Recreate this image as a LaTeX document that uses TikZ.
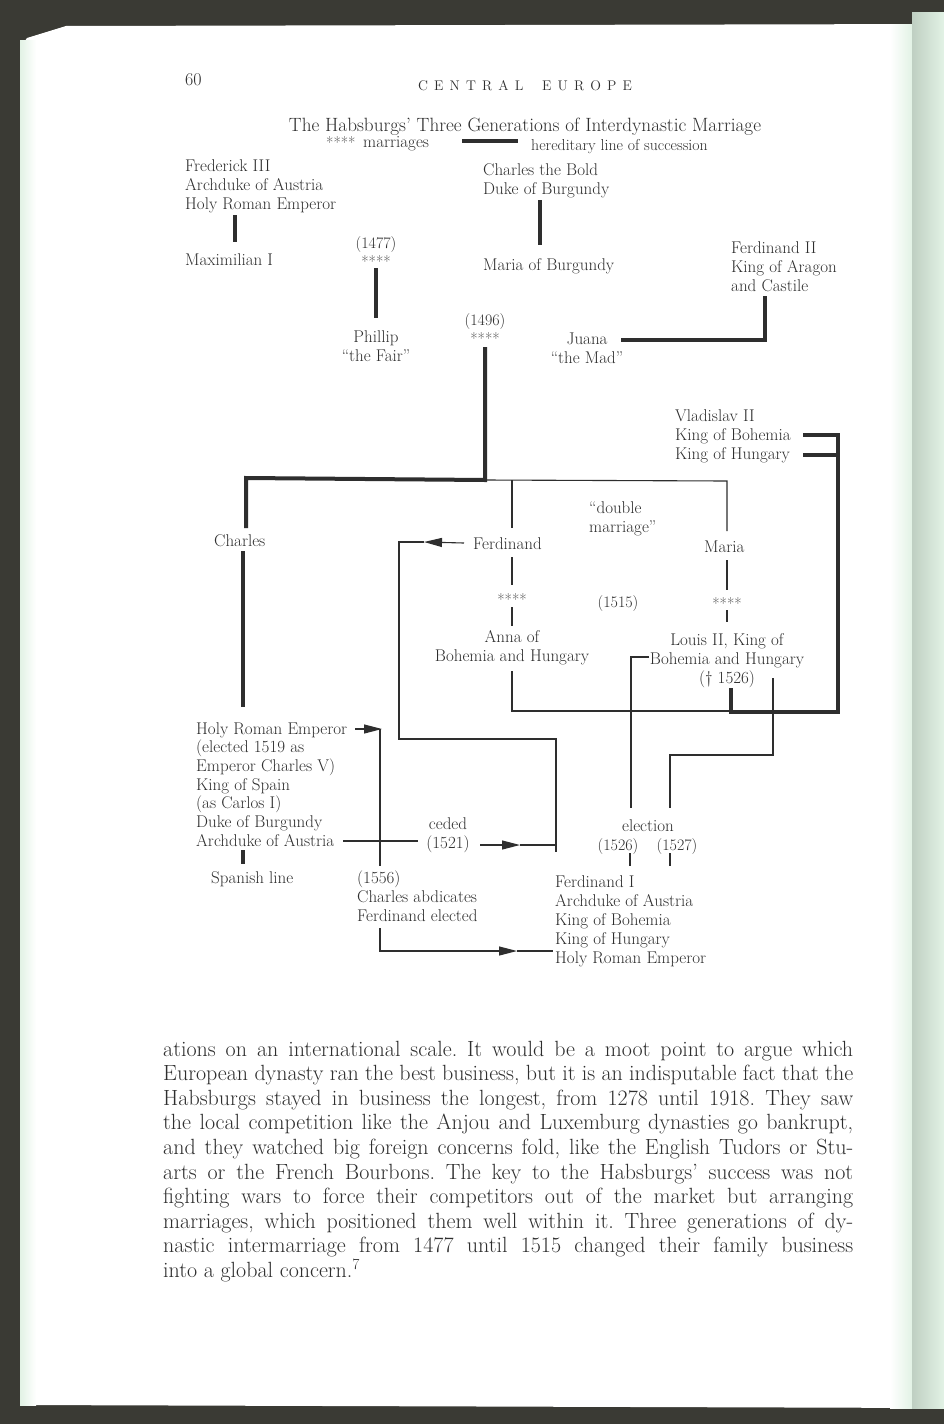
\documentclass[tikz,border=0pt]{standalone}
\usepackage{fontspec}
\usetikzlibrary{arrows.meta}
\definecolor{ink}{HTML}{2E2E2E}
\definecolor{frame}{HTML}{3A3A34}
\definecolor{edgegreen}{HTML}{C6D8C9}
\definecolor{palegreen}{HTML}{E2F2E5}
\begin{document}
\begin{tikzpicture}[x=1pt,y=-1pt,
  txt/.style={inner sep=0pt, text=ink, font=\fontsize{17}{19}\selectfont},
  lbl/.style={txt, anchor=base west},
  clbl/.style={txt, anchor=base},
  blk/.style={txt, align=left, anchor=north west},
  cblk/.style={txt, align=center, anchor=north},
  yr/.style={font=\fontsize{16}{19}\selectfont},
  stars/.style={inner sep=0pt, text=ink!85, font=\fontsize{16}{16}\selectfont},
  her/.style={draw=ink, line width=4pt, line join=miter},
  rel/.style={draw=ink, line width=1.1pt},
  arr/.style={-{Triangle[length=18pt,width=9pt]}},
  body/.style={inner sep=0pt, anchor=base west, text=ink, font=\fontsize{22}{25}\selectfont\frenchspacing}]

\useasboundingbox (0,0) rectangle (944,1424);
% page and scanner frame
\fill[frame] (0,0) rectangle (944,1424);
\fill[white] (20,1405) -- (20,48) -- (27,38) -- (66,26) -- (944,24) -- (944,1408) -- cycle;
\shade[left color=palegreen, right color=white] (20,40) rectangle (36,1405);
\shade[left color=white, right color=palegreen] (890,24) rectangle (912,1408);
\shade[left color=edgegreen!90!gray, right color=palegreen] (912,12) rectangle (944,1408);

% header
\node[lbl, font=\fontsize{18}{20}\selectfont] (pg) at (185,85) {60};
\node[clbl] (hdr) at (525,90) {\fontsize{14}{15}\selectfont\makebox[214pt][s]{C\hfil E\hfil N\hfil T\hfil R\hfil A\hfil L\hfil\hfil\hfil E\hfil U\hfil R\hfil O\hfil P\hfil E}};

% title and legend
\node[clbl, font=\fontsize{19.2}{21}\selectfont] (title) at (525,131) {The Habsburgs’ Three Generations of Interdynastic Marriage};
\node[stars, anchor=base west] (lgs) at (326,148) {****};
\node[lbl, font=\fontsize{17}{19}\selectfont] (lgm) at (363,147) {marriages};
\coordinate (lbA) at (462,141); \coordinate (lbB) at (518,141);
\draw[her] (lbA) -- (lbB);
\node[lbl, font=\fontsize{15.8}{19}\selectfont] (lgh) at (531,150) {hereditary line of succession};

% generation 1
\node[blk] (fred) at (185,159) {Frederick III\\Archduke of Austria\\Holy Roman Emperor};
\node[lbl] (max) at (185,265) {Maximilian I};
\node[clbl, yr] (y1477) at (376,248) {(1477)};
\node[stars] (s1477) at (376,262) {****};
\node[cblk] (phil) at (376,330) {Phillip\\“the Fair”};
\node[blk] (cb) at (483,163) {Charles the Bold\\Duke of Burgundy};
\node[lbl] (mb) at (483,270) {Maria of Burgundy};
\node[blk] (f2) at (731,241) {Ferdinand II\\King of Aragon\\and Castile};
\node[clbl, yr] (y1496) at (485,325) {(1496)};
\node[stars] (s1496) at (485,339) {****};
\node[cblk] (juana) at (587,333) {Juana\\“the Mad”};
\node[blk] (vlad) at (675,409) {Vladislav II\\King of Bohemia\\King of Hungary};

% generation 3
\node[blk] (dbl) at (589,501) {“double\\marriage”};
\node[lbl] (charles) at (214,546) {Charles};
\node[lbl] (ferd) at (473,549) {Ferdinand};
\node[lbl] (maria) at (704,552) {Maria};
\node[stars] (sA) at (512,600) {****};
\node[stars] (sL) at (727,603) {****};
\node[clbl, yr] (y1515) at (618,607) {(1515)};
\node[cblk] (anna) at (512,630) {Anna of\\Bohemia and Hungary};
\node[cblk] (louis) at (727,633) {Louis II, King of\\Bohemia and Hungary\\(† 1526)};

% lower part
\node[blk, font=\fontsize{17}{18.7}\selectfont] (hre) at (196,722) {Holy Roman Emperor\\(elected 1519 as\\Emperor Charles V)\\King of Spain\\(as Carlos I)\\Duke of Burgundy\\Archduke of Austria};
\node[cblk] (ceded) at (448,817) {ceded\\(1521)};
\node[clbl] (elec) at (648,831) {election};
\node[clbl, yr] (y1526) at (618,850) {(1526)};
\node[clbl, yr] (y1527) at (677,850) {(1527)};
\node[lbl] (span) at (211,883) {Spanish line};
\node[blk] (abd) at (357,871) {(1556)\\Charles abdicates\\Ferdinand elected};
\node[blk] (fI) at (555,875) {Ferdinand I\\Archduke of Austria\\King of Bohemia\\King of Hungary\\Holy Roman Emperor};

% ---- connector end points
\coordinate (fredS) at (235,215);  \coordinate (maxN) at (235,242);
\coordinate (m77a) at (376,268);   \coordinate (m77b) at (376,318);
\coordinate (cbS) at (540,200);    \coordinate (mbN) at (540,245);
\coordinate (f2S) at (765,296);    \coordinate (juE) at (621,340);
\coordinate (m96) at (485,347);    \coordinate (sib) at (485,480);
\coordinate (chN) at (246,528);
\coordinate (ferN) at (512,528);   \coordinate (marN) at (727,531);
\coordinate (vbE) at (803,435);    \coordinate (vhE) at (803,455);
\coordinate (vR) at (838,455);
\coordinate (louS) at (731,688);
\coordinate (chS) at (243,551);    \coordinate (hreN) at (243,707);
\coordinate (hreS) at (243,850);   \coordinate (spN) at (243,864);

% hereditary lines (thick)
\draw[her] (fredS) -- (maxN);
\draw[her] (m77a) -- (m77b);
\draw[her] (cbS) -- (mbN);
\draw[her] (f2S) |- (juE);
\draw[her] (m96) -- (sib) -- (246,478) -- (chN);
\draw[her] (chS) -- (hreN);
\draw[her] (hreS) -- (spN);

% thin family lines
\draw[rel] (sib) -- (727,481) -- (marN);
\draw[rel] (512,480) -- (ferN);
\draw[rel] (512,557) -- (512,585);
\draw[rel] (512,607) -- (512,626);
\draw[rel] (727,560) -- (727,590);
\draw[rel] (727,610) -- (727,622);
\draw[rel] (512,671) |- (731,711);
\draw[rel] (649,657) -| (631,808);
\draw[rel] (773,678) |- (670,755) -- (670,808);
\draw[rel] (630,853) -- (630,866);
\draw[rel] (670,853) -- (670,866);

% Vladislav to Louis (thick, drawn over thin)
\draw[her] (vbE) -- (838,435) -- (838,712) -| (louS);
\draw[her] (vhE) -- (vR);

% arrows
\coordinate (fa) at (424,542);
\draw[rel, arr] (464,543) -- (fa);
\draw[rel] (fa) -- (399,542) -- (399,739) -| (556,852);
\coordinate (ha) at (382,729);
\draw[rel, arr] (355,729) -- (ha);
\draw[rel] (380,729) -- (380,866);
\draw[rel] (343,841) -- (418,841);
\coordinate (ca) at (520,845);
\draw[rel, arr] (480,845) -- (ca);
\draw[rel] (ca) -- (556,845);
\coordinate (aa) at (517,951);
\draw[rel, arr] (380,928) |- (aa);
\draw[rel] (aa) -- (553,951);

% body text
\node[body] (b1) at (163,1056) {\makebox[690pt][s]{ations on an international scale. It would be a moot point to argue which}};
\node[body] (b2) at (163,1080.6) {\makebox[690pt][s]{European dynasty ran the best business, but it is an indisputable fact that the}};
\node[body] (b3) at (163,1105.2) {\makebox[690pt][s]{Habsburgs stayed in business the longest, from 1278 until 1918. They saw}};
\node[body] (b4) at (163,1129.8) {\makebox[690pt][s]{the local competition like the Anjou and Luxemburg dynasties go bankrupt,}};
\node[body] (b5) at (163,1154.4) {\makebox[690pt][s]{and they watched big foreign concerns fold, like the English Tudors or Stu-}};
\node[body] (b6) at (163,1179) {\makebox[690pt][s]{arts or the French Bourbons. The key to the Habsburgs’ success was not}};
\node[body] (b7) at (163,1203.6) {\makebox[690pt][s]{fighting wars to force their competitors out of the market but arranging}};
\node[body] (b8) at (163,1228.2) {\makebox[690pt][s]{marriages, which positioned them well within it. Three generations of dy-}};
\node[body] (b9) at (163,1252.8) {\makebox[690pt][s]{nastic intermarriage from 1477 until 1515 changed their family business}};
\node[body] (b10) at (163,1277.4) {into a global concern.\textsuperscript{7}};
\end{tikzpicture}
\end{document}
